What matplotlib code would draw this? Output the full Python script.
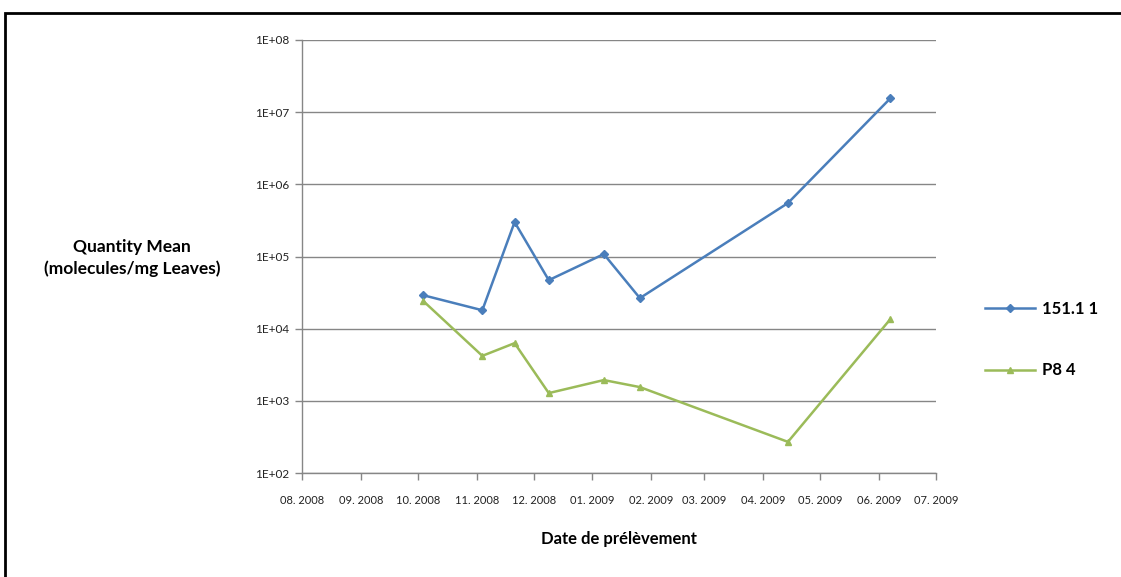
# Import libraries
import numpy as np
import matplotlib
matplotlib.use("Agg")
import matplotlib.pyplot as plt
import matplotlib.dates as mdates
from matplotlib.patches import Rectangle
from datetime import datetime


# Data
dates = ["2008-10-04", "2008-11-04", "2008-11-21", "2008-12-09",
         "2009-01-07", "2009-01-26", "2009-04-14", "2009-06-07"]
s151 = [2.9e4, 1.8e4, 3.0e5, 4.7e4, 1.08e5, 2.65e4, 5.5e5, 1.56e7]
sP8 = [2.4e4, 4.2e3, 6.3e3, 1.28e3, 1.94e3, 1.55e3, 2.7e2, 1.36e4]
labels = ["151.1 1", "P8 4"]

x = [datetime.strptime(d, "%Y-%m-%d") for d in dates]

plt.rcParams['font.family'] = ['Lato', 'DejaVu Sans']

fig = plt.figure(figsize=(11.21, 5.77), dpi=100)
ax = fig.add_axes([302/1121, 1 - 473/577, 634/1121, 433/577])

l1, = ax.plot(x, s151, color='#4A7EBB', lw=1.8, marker='D', ms=3.8, label=labels[0])
l2, = ax.plot(x, sP8, color='#9BBB59', lw=1.8, marker='^', ms=5, label=labels[1])

ax.set_yscale('log')
ax.set_ylim(1e2, 1e8)
ax.set_xlim(datetime(2008, 8, 1), datetime(2009, 7, 1))
ax.yaxis.set_major_locator(matplotlib.ticker.LogLocator(base=10, numticks=10))
ax.yaxis.set_minor_locator(matplotlib.ticker.NullLocator())
ax.yaxis.set_major_formatter(matplotlib.ticker.FuncFormatter(lambda v, p: "1E+%02d" % round(np.log10(v))))
ax.xaxis.set_major_locator(mdates.MonthLocator())
ax.xaxis.set_major_formatter(mdates.DateFormatter("%m. %Y"))

ax.grid(True, axis='y', color='#868686', lw=1.0)
ax.set_axisbelow(True)
for side in ['top', 'right']:
    ax.spines[side].set_visible(False)
for side in ['left', 'bottom']:
    ax.spines[side].set_color('#868686')
    ax.spines[side].set_linewidth(1.0)
ax.tick_params(axis='both', colors='#868686', length=5, width=1.0, labelcolor='#222222')
ax.tick_params(axis='y', labelsize=8.5, pad=4)
ax.tick_params(axis='x', labelsize=8, pad=11)

ax.set_xlabel("Date de prélèvement", fontsize=12, fontweight='bold', labelpad=18)
fig.text(132/1121, 1 - 258/577, "Quantity Mean\n(molecules/mg Leaves)", ha='center', va='center',
         fontsize=12.5, fontweight='bold', linespacing=1.35)

leg = fig.legend(handles=[l1, l2], loc='center left', bbox_to_anchor=(970/1121, 1 - 339.5/577),
                 frameon=False, fontsize=12, labelspacing=2.75, handlelength=3.0, handletextpad=0.4)
for t in leg.get_texts():
    t.set_fontweight('bold')

# Outer border
fig.patches.append(Rectangle((4.5/1121, -0.05), 1.2, 1 - 12.5/577 + 0.05, transform=fig.transFigure,
                             fill=False, edgecolor='black', lw=2.0))

fig.savefig("out.png", dpi=100)
